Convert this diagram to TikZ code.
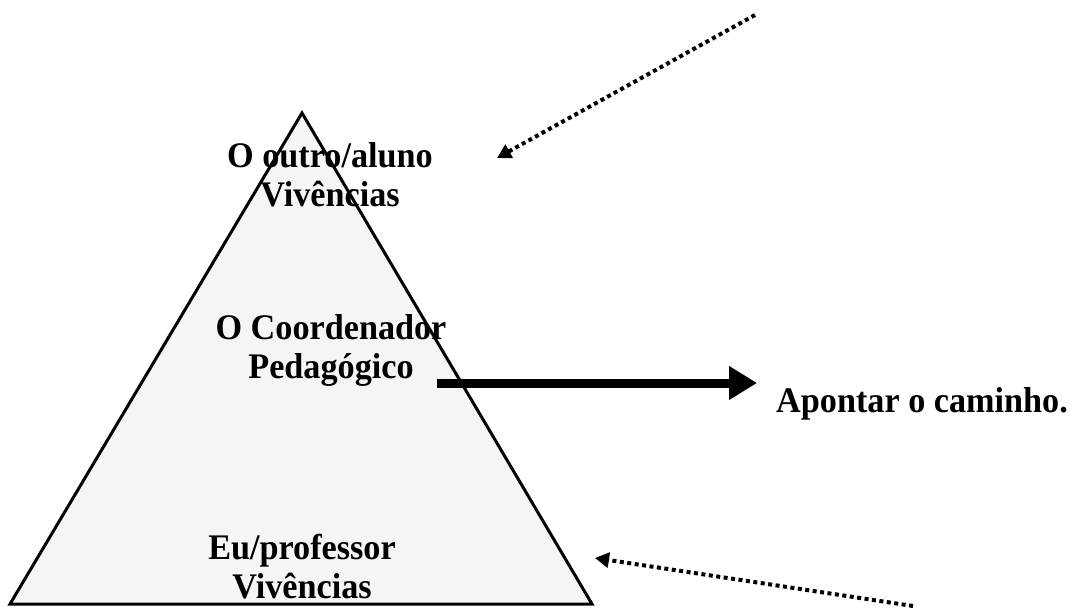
\documentclass[tikz,border=0pt]{standalone}
\usepackage{fontspec}
\setmainfont{Liberation Serif}[FakeStretch=0.95]
\usetikzlibrary{arrows.meta}

\tikzset{
    label/.style={align=center, font=\bfseries\fontsize{36}{39}\selectfont, inner sep=0pt},
    dotarrow/.style={line width=4pt, dash pattern=on 4pt off 3.5pt, -{Triangle[length=14pt,width=15pt]}},
    bigarrow/.style={line width=9pt, -{Triangle[length=28pt,width=32pt]}}
}

\begin{document}
\begin{tikzpicture}[x=1pt, y=-1pt]
    \useasboundingbox (0, 0) rectangle (1072, 608);

    \coordinate (apex)  at (302, 113);
    \coordinate (left)  at (10, 604);
    \coordinate (right) at (592, 604);
    \fill[black!4] (apex) -- (left) -- (right) -- cycle;

    \node[label] (aluno)   at (330, 175) {O outro/aluno\\Vivências};
    \node[label] (coord)   at (331, 350) {O Coordenador\\Pedagógico};
    \node[label] (prof)    at (302, 567) {Eu/professor\\Vivências};
    \node[label, anchor=base west] (caminho) at (776, 412) {Apontar o caminho.};

    \draw[line width=3pt, line join=miter] (apex) -- (left) -- (right) -- cycle;

    \coordinate (bigS) at (437, 383);
    \coordinate (bigE) at (757, 383);
    \draw[bigarrow, black!30, shift={(2, 4)}] (bigS) -- (bigE);
    \draw[bigarrow] (bigS) -- (bigE);

    \coordinate (topS) at (755, 15);
    \coordinate (topE) at (497, 158);
    \coordinate (lowS) at (913, 606);
    \coordinate (lowE) at (595, 558);
    \draw[dotarrow] (topS) -- (topE);
    \draw[dotarrow] (lowS) -- (lowE);
\end{tikzpicture}
\end{document}
